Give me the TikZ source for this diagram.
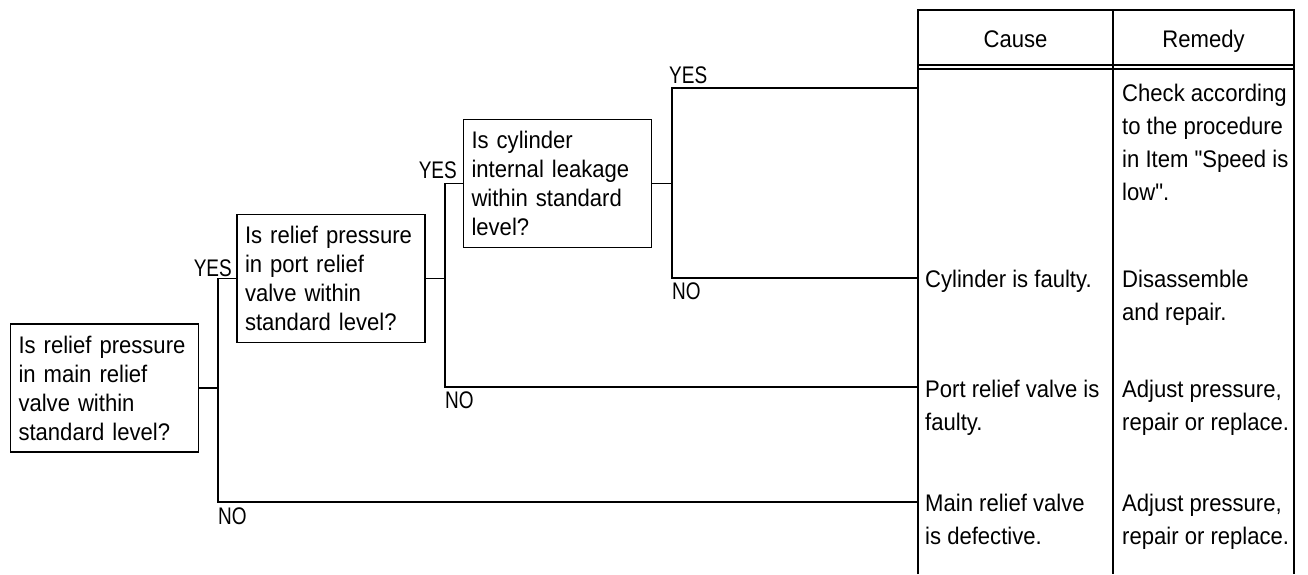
\documentclass[tikz,border=0pt]{standalone}
\usepackage{fontspec}
\usepackage{graphicx}
\newfontfamily\lsans{Liberation Sans}[FakeStretch=0.92]
\newcommand\cellstrut{\rule{0pt}{20pt}}
\newcommand\cond[1]{\scalebox{0.86}[1]{#1}}
\begin{document}
\begin{tikzpicture}[x=1pt,y=-1pt,
  every node/.style={font=\lsans\fontsize{24}{29}\selectfont, inner sep=0pt},
  qbox/.style={draw, line width=1.6pt, text width=172pt, inner xsep=8pt, inner ysep=0pt, minimum height=128pt, align=left},
  conn/.style={line width=1.2pt},
  tbl/.style={line width=1.8pt},
  tblthin/.style={line width=1.2pt},
  cell/.style={anchor=north west, align=left, font=\lsans\fontsize{24}{33}\selectfont},
  lbl/.style={inner sep=0pt}
]
\useasboundingbox (0,0) rectangle (1308,574);

% question boxes
\node[qbox] (q1) at (104.5,388) {Is relief pressure\\in main relief\\valve within\\standard level?};
\node[qbox] (q2) at (331,278.5) {Is relief pressure\\in port relief\\valve within\\standard level?};
\node[qbox] (q3) at (557.5,183.5) {Is cylinder\\internal leakage\\within standard\\level?};

% table
\draw[tbl] (918,574) -- (918,10) -- (1294,10) -- (1294,574);
\draw[tblthin] (1113,10) -- (1113,574);
\draw[tblthin] (918,65) -- (1294,65);
\draw[tblthin] (918,69) -- (1294,69);

\node[anchor=base] (hc) at (1015.5,47) {Cause};
\node[anchor=base] (hr) at (1203.5,47) {Remedy};

\node[cell] (r1) at (1122,81) {\cellstrut Check according\\to the procedure\\in Item "Speed is\\low".};
\node[cell] (c2) at (925,267) {\cellstrut Cylinder is faulty.};
\node[cell] (r2) at (1122,267) {\cellstrut Disassemble\\and repair.};
\node[cell] (c3) at (925,377) {\cellstrut Port relief valve is\\faulty.};
\node[cell] (r3) at (1122,377) {\cellstrut Adjust pressure,\\repair or replace.};
\node[cell] (c4) at (925,491) {\cellstrut Main relief valve\\is defective.};
\node[cell] (r4) at (1122,491) {\cellstrut Adjust pressure,\\repair or replace.};

% connector points
\coordinate (tY) at (918,88);
\coordinate (tC) at (918,278);
\coordinate (tP) at (918,387);
\coordinate (tM) at (918,502);
\coordinate (a1) at (218,502);
\coordinate (a2) at (445,387);
\coordinate (a3) at (672,88);
\coordinate (a4) at (672,278);

% connectors
\draw[conn] (q1.east) -- (q1.east -| a1);
\draw[conn] (q2.west) -| (a1) -- (tM);
\draw[conn] (q2.east) -- (q2.east -| a2);
\draw[conn] (q3.west) -| (a2) -- (tP);
\draw[conn] (q3.east) -- (q3.east -| a3);
\draw[conn] (tY) -- (a3) -- (a4) -- (tC);

% labels
\node[lbl, anchor=base west] (y3) at (669,83) {\cond{YES}};
\node[lbl, anchor=base west] (n3) at (672,299) {\cond{NO}};
\node[lbl, anchor=base east] (y2) at (457,178) {\cond{YES}};
\node[lbl, anchor=base west] (n2) at (445,408) {\cond{NO}};
\node[lbl, anchor=base east] (y1) at (232,276) {\cond{YES}};
\node[lbl, anchor=base west] (n1) at (218,524) {\cond{NO}};
\end{tikzpicture}
\end{document}
